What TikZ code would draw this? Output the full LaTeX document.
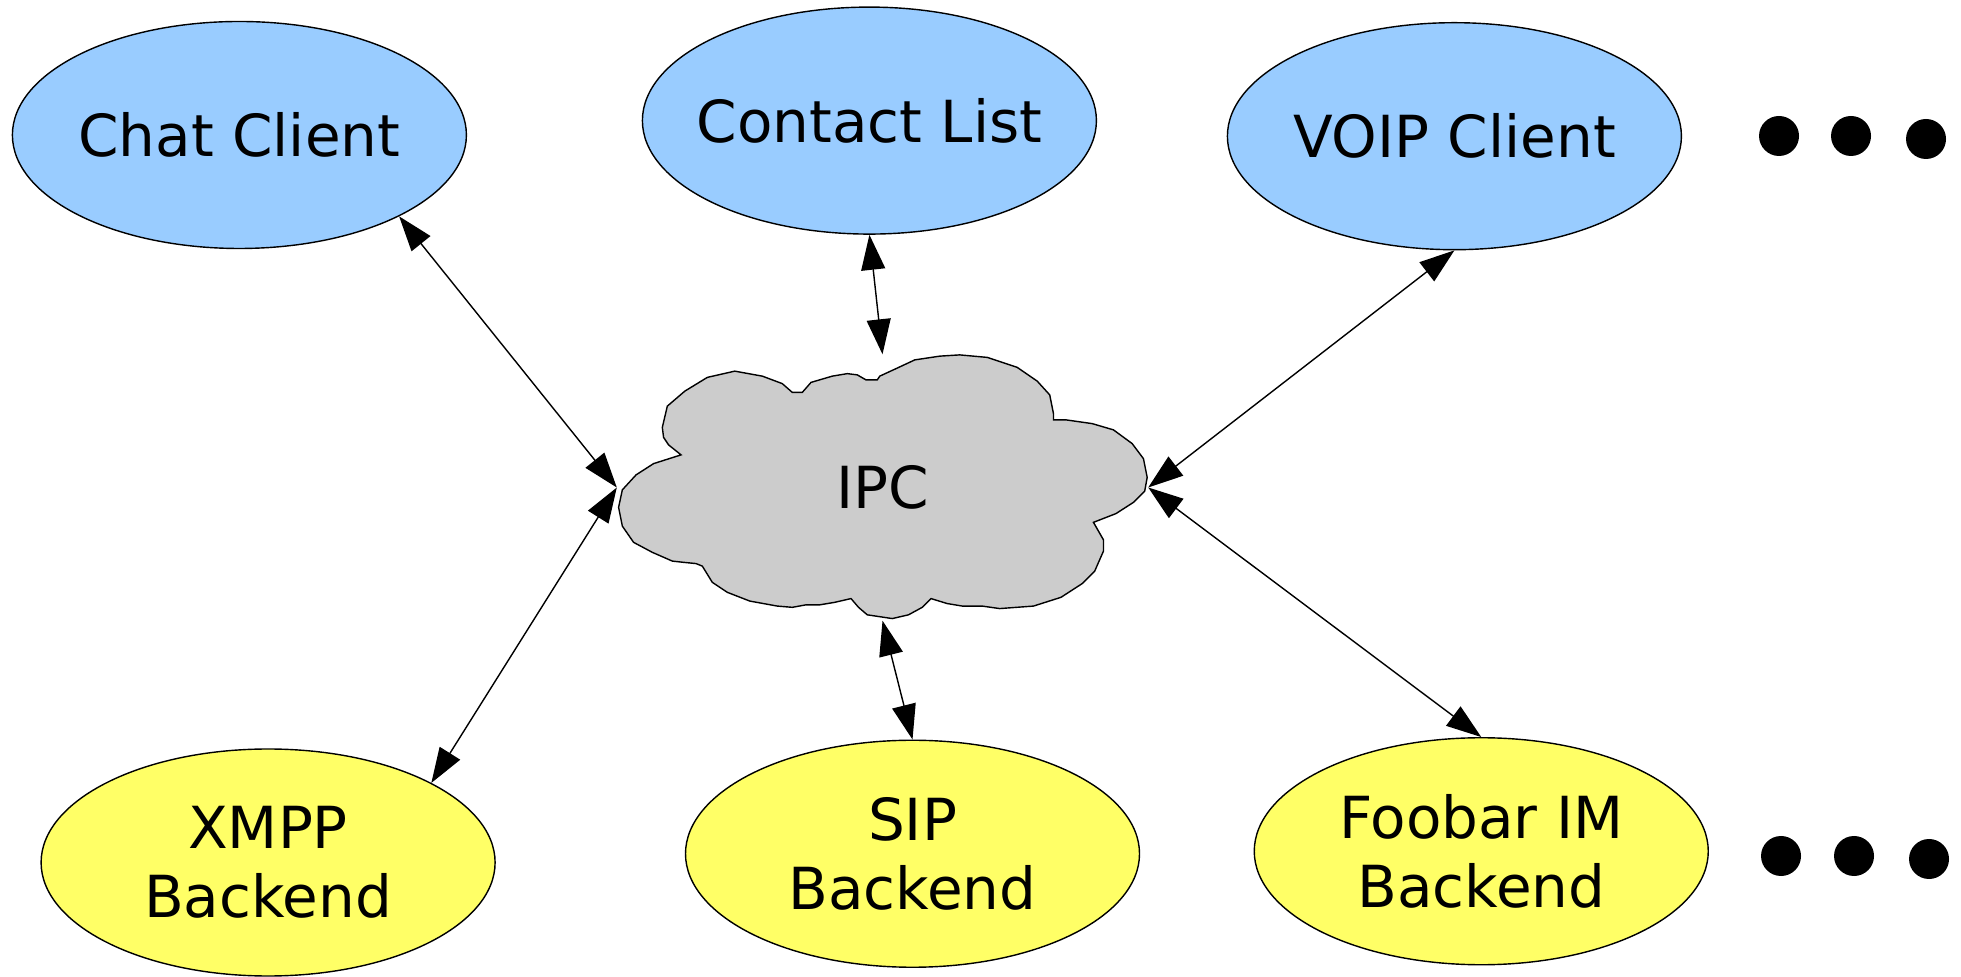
\documentclass[tikz,border=0pt]{standalone}
\usepackage{fontspec}
\setmainfont{DejaVu Sans}
\usetikzlibrary{shapes.geometric,arrows.meta}

\definecolor{clientblue}{HTML}{99CCFF}
\definecolor{backendyellow}{HTML}{FFFF66}
\definecolor{cloudgray}{HTML}{CCCCCC}

\tikzset{
  client/.style={ellipse, draw, line width=0.4pt, fill=clientblue, minimum width=4.54cm, minimum height=2.27cm, inner xsep=-0.4cm, inner ysep=0pt, align=center, font=\fontsize{16.5}{19.7}\selectfont},
  backend/.style={client, fill=backendyellow},
  link/.style={{Triangle[length=3.5mm,width=2.4mm]}-{Triangle[length=3.5mm,width=2.4mm]}, line width=0.4pt}
}

\begin{document}
\begin{tikzpicture}
        \useasboundingbox (0,0) rectangle (19.61,9.76);
        % the cloud
        \begin{scope}[shift={(0,9.76)}, x=0.0125cm, y=-0.0125cm]
        \draw[fill=cloudgray, line width=0.4pt] (534,325)--(548,313)--(566,302)--(588,297)--(610,301)--(626,307)--(634,314)--(642,314)--(649,306)--(666,301)--(678,299)--(686,300)--(693,304)--(702,304)--(704,301)--(717,295)--(732,288)--(752,285)--(768,284)--(790,286)--(814,294)--(830,305)--(840,316)--(843,331)--(843,336)--(853,336)--(874,339)--(891,344)--(906,355)--(915,367)--(918,382)--(916,393)--(907,402)--(893,411)--(875,418)--(883,432)--(883,441)--(876,457)--(866,467)--(849,478)--(827,485)--(800,487)--(786,485)--(770,485)--(758,483)--(745,479)--(738,486)--(727,492)--(714,495)--(694,492)--(687,486)--(681,479)--(668,482)--(656,484)--(645,484)--(634,486)--(622,485)--(600,481)--(582,474)--(570,466)--(562,453)--(557,451)--(547,450)--(538,449)--(522,442)--(507,434)--(498,421)--(495,406)--(498,392)--(509,380)--(523,371)--(545,364)--(535,356)--(531,350)--(530,342)--cycle;
        \end{scope}
        \node[ellipse, minimum width=5.3cm, minimum height=2.65cm, inner sep=0pt, font=\fontsize{16.5}{19.7}\selectfont] (ipc) at (8.825,4.885) {IPC};

        \node[client] (chat) at (2.394,8.41) {Chat Client};
        \node[client] (contacts) at (8.694,8.554) {Contact List};
        \node[client] (voip) at (14.544,8.398) {VOIP Client};
        \node[backend] (xmpp) at (2.681,1.135) {XMPP\\Backend};
        \node[backend] (sip) at (9.125,1.2225) {SIP\\Backend};
        \node[backend] (foobar) at (14.8125,1.2475) {Foobar IM\\Backend};

        \fill (17.79,8.40) circle (0.2) (18.51,8.40) circle (0.2) (19.26,8.37) circle (0.2);
        \fill (17.81,1.20) circle (0.2) (18.54,1.20) circle (0.2) (19.29,1.17) circle (0.2);

        \draw[link] (chat.-27) -- (ipc.west);
        \draw[link] (contacts.south) -- (ipc.north);
        \draw[link] (voip.south) -- (ipc.east);
        \draw[link] (xmpp.26.5) -- (ipc.west);
        \draw[link] (sip.north) -- (ipc.south);
        \draw[link] (foobar.north) -- (ipc.east);
\end{tikzpicture}
\end{document}
